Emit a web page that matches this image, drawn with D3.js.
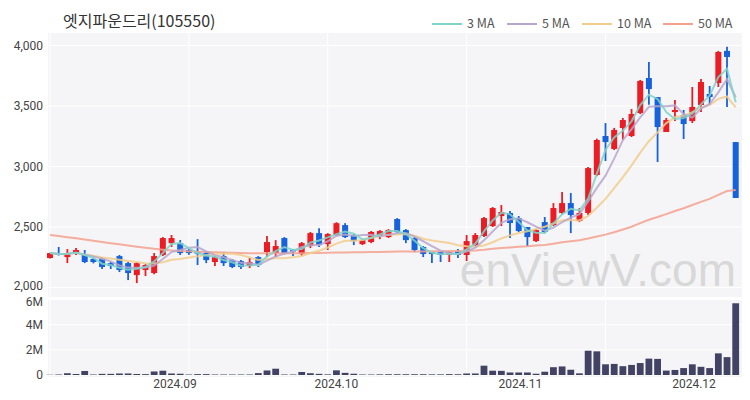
<!DOCTYPE html>
<html><head><meta charset="utf-8">
<script src="https://cdn.jsdelivr.net/npm/d3@7"></script>
<style>body{margin:0;background:#fff;} svg{display:block;font-family:"Noto Sans CJK KR","Noto Sans",sans-serif;}</style>
</head><body><svg id="c" width="750" height="400"></svg>
<script>
const title = "엣지파운드리(105550)";
const opens  = [2244,2285,2252,2277,2269,2236,2236,2202,2260,2202,2103,2145,2120,2269,2367,2367,2310,2293,2285,2211,
                2260,2227,2219,2178,2252,2293,2285,2409,2310,2277,2343,2450,2359,2434,2516,2434,2359,2376,2425,2417,
                2566,2475,2409,2335,2293,2293,2269,2300,2269,2351,2426,2508,2591,2616,2574,2500,2384,2541,2516,2616,
                2698,2550,2616,2930,3252,3145,3318,3252,3442,3731,3574,3285,3450,3426,3376,3508,3599,3690,3955,3202];
const highs  = [2288,2335,2318,2326,2310,2245,2252,2211,2269,2211,2211,2194,2285,2417,2434,2392,2318,2400,2302,2260,
                2293,2236,2227,2244,2260,2425,2392,2417,2318,2376,2459,2491,2450,2540,2532,2442,2400,2467,2475,2483,
                2574,2483,2417,2343,2293,2293,2300,2318,2434,2450,2583,2665,2682,2632,2591,2500,2483,2583,2698,2789,
                2781,2657,2996,3230,3359,3319,3401,3475,3715,3864,3574,3401,3550,3467,3657,3723,3665,3955,3990,3202];
const lows   = [2240,2265,2202,2269,2202,2200,2153,2153,2128,2062,2037,2095,2110,2260,2335,2269,2270,2186,2202,2178,
                2178,2161,2153,2161,2170,2252,2252,2277,2260,2260,2326,2335,2310,2425,2409,2351,2351,2367,2400,2409,
                2450,2367,2293,2252,2202,2211,2211,2244,2219,2343,2417,2500,2508,2409,2459,2343,2376,2450,2508,2607,
                2450,2541,2599,2920,3045,3136,3219,3244,3434,3510,3037,3285,3376,3227,3359,3450,3508,3657,3492,2740];
const closes = [2285,2270,2285,2310,2211,2211,2170,2178,2145,2120,2202,2186,2260,2409,2409,2285,2285,2285,2227,2252,
                2202,2170,2170,2210,2186,2376,2343,2285,2302,2367,2450,2351,2442,2532,2417,2384,2392,2459,2467,2475,
                2459,2392,2310,2277,2277,2269,2293,2269,2384,2434,2574,2657,2624,2533,2467,2417,2475,2459,2657,2698,
                2599,2616,2987,3219,3202,3302,3384,3434,3707,3640,3326,3384,3467,3351,3492,3698,3574,3946,3905,2740];
const volumesM = [0.02,0.04,0.14,0.08,0.32,0.04,0.09,0.09,0.12,0.12,0.08,0.07,0.28,0.34,0.12,0.10,0.04,0.07,0.07,0.04,
                  0.04,0.04,0.04,0.04,0.15,0.36,0.50,0.04,0.04,0.24,0.14,0.09,0.05,0.37,0.17,0.10,0.04,0.04,0.05,0.06,
                  0.06,0.06,0.06,0.06,0.05,0.05,0.07,0.06,0.12,0.12,0.74,0.34,0.33,0.20,0.20,0.20,0.10,0.26,0.62,0.68,
                  0.42,0.13,1.93,1.88,0.85,0.88,0.70,0.80,0.95,1.30,1.28,0.35,0.40,0.55,0.85,0.65,0.55,1.72,1.42,5.70];
// 50-day average before enough in-window history exists
const ma50Early = [2434,2425,2416,2407,2397,2387,2377,2367,2357,2347,2338,2329,2320,2313,2307,2302,2299,2296,2293,2291,
                   2289,2287,2285,2284,2283,2283,2283,2283,2283,2284,2285,2286,2287,2289,2290,2291,2292,2293,2294,2296,
                   2297,2298,2298,2298,2299,2300,2301,2302,2304];
const monthLabels = ["2024.09","2024.10","2024.11","2024.12"];
const monthPos = [14.4, 33, 54.2, 74.2];
const priceTicks = [2000,2500,3000,3500,4000];
const volTicks = [0,2,4,6];
const volTickLabels = ["0","2M","4M","6M"];
const gridIdx = [0,16,32,48,64];
const legendNames = ["3 MA","5 MA","10 MA","50 MA"];
const legendColors = ["#7fd3c9","#b9a6cc","#f2cc8c","#f5a08e"];

const svg = d3.select("#c");
const n = closes.length;
const idx = d3.range(n);
const x = d3.scaleLinear().domain([0, n-1]).range([50, 735.7]);
const yP = d3.scaleLinear().domain([1922, 4103]).range([297, 33]);
const yV = d3.scaleLinear().domain([0, 6]).range([375, 299.5]);
const L = 48, R = 742;

// panels
svg.append("rect").attr("x",L).attr("y",yP.range()[1]).attr("width",R-L).attr("height",yP.range()[0]-yP.range()[1]).attr("fill","#f5f5f7");
svg.append("rect").attr("x",L).attr("y",299.5).attr("width",R-L).attr("height",377-299.5).attr("fill","#f5f5f7");

// gridlines
const g = svg.append("g").attr("stroke","#ffffff").attr("stroke-width",1);
priceTicks.forEach(t=>g.append("line").attr("x1",L).attr("x2",R).attr("y1",yP(t)).attr("y2",yP(t)));
volTicks.forEach(t=>g.append("line").attr("x1",L).attr("x2",R).attr("y1",yV(t)).attr("y2",yV(t)));
gridIdx.forEach(i=>{
  g.append("line").attr("x1",x(i)).attr("x2",x(i)).attr("y1",33).attr("y2",297);
  g.append("line").attr("x1",x(i)).attr("x2",x(i)).attr("y1",299.5).attr("y2",377);
});

// watermark
svg.append("text").attr("x",736).attr("y",286).attr("text-anchor","end")
  .attr("font-family","Liberation Sans, Arial, sans-serif").attr("font-size",46)
  .attr("fill","#d8d8d8").text("enViewV.com");

// axes labels
const axG = svg.append("g").attr("font-size",12).attr("fill","#444").attr("font-family","Roboto, 'Noto Sans', sans-serif");
priceTicks.forEach(t=>axG.append("text").attr("x",43).attr("y",yP(t) - (t===2000?1.5:0)).attr("dy","0.35em").attr("text-anchor","end").text(d3.format(",")(t)));
volTicks.forEach((t,k)=>axG.append("text").attr("x",43).attr("y",yV(t) + (t===6?2:0)).attr("dy","0.35em").attr("text-anchor","end").text(volTickLabels[k]));
monthLabels.forEach((m,k)=>axG.append("text").attr("x",x(monthPos[k])).attr("y",388).attr("text-anchor","middle").text(m));

// volume bars
svg.append("g").selectAll("rect").data(idx).join("rect")
  .attr("x",i=>x(i)-3.4).attr("width",6.8)
  .attr("y",i=>yV(volumesM[i])).attr("height",i=>yV(0)-yV(volumesM[i]))
  .attr("fill","#414264");

// candles
const up = "#ec1c24", down = "#1662dc";
const cg = svg.append("g");
cg.selectAll("line").data(idx).join("line")
  .attr("x1",i=>x(i)).attr("x2",i=>x(i)).attr("y1",i=>yP(highs[i])).attr("y2",i=>yP(lows[i]))
  .attr("stroke",i=>closes[i]>=opens[i]?up:down).attr("stroke-width",1.8);
cg.selectAll("rect").data(idx).join("rect")
  .attr("x",i=>x(i)-3).attr("width",6)
  .attr("y",i=>yP(Math.max(opens[i],closes[i])))
  .attr("height",i=>Math.max(1.5, Math.abs(yP(opens[i])-yP(closes[i]))))
  .attr("fill",i=>closes[i]>=opens[i]?up:down);

// moving averages
function ma(k){ return closes.map((c,i)=>d3.mean(closes.slice(Math.max(0,i-k+1), i+1))); }
const ma50 = closes.map((c,i)=> i>=49 ? d3.mean(closes.slice(i-49,i+1)) : ma50Early[i]);
const series = [ma50, ma(10), ma(5), ma(3)];
const sColors = [legendColors[3], legendColors[2], legendColors[1], legendColors[0]];
const line = d3.line().x((d,i)=>x(i)).y(d=>yP(d));
series.forEach((s,k)=>svg.append("path").attr("d",line(s)).attr("fill","none")
  .attr("stroke",sColors[k]).attr("stroke-width",2).attr("opacity",0.85));

// title
svg.append("text").attr("x",63).attr("y",27).attr("font-size",16).attr("fill","#333").text(title);

// legend
const lgX = [432, 507, 582, 663];
legendNames.forEach((nm,k)=>{
  svg.append("line").attr("x1",lgX[k]).attr("x2",lgX[k]+30).attr("y1",24).attr("y2",24)
    .attr("stroke",legendColors[k]).attr("stroke-width",2);
  svg.append("text").attr("x",lgX[k]+35).attr("y",24).attr("dy","0.35em").attr("font-size",12.5)
    .attr("fill","#555").text(nm);
});
</script>
</body></html>
